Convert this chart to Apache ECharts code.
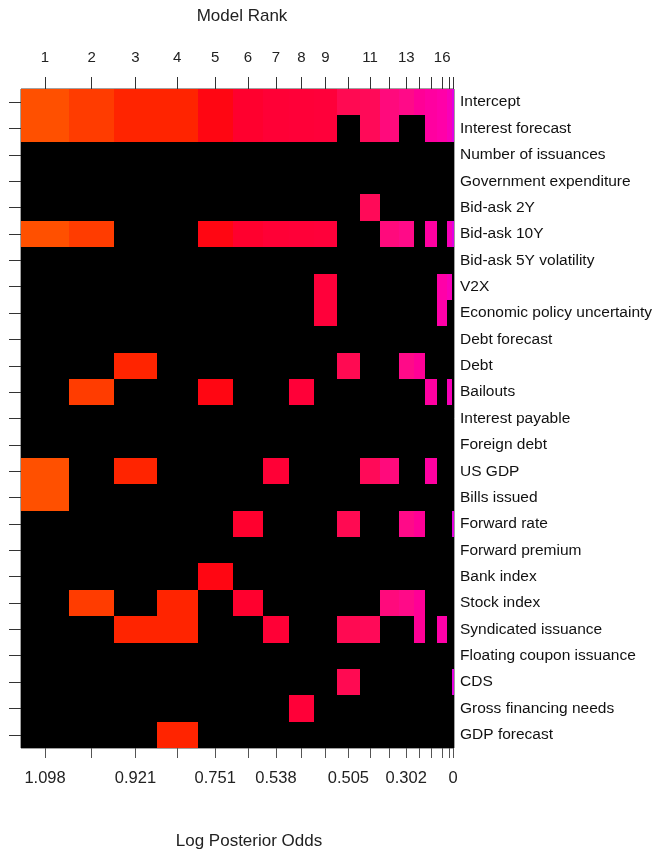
<!DOCTYPE html>
<html>
<head>
<meta charset="utf-8">
<script src="https://cdn.jsdelivr.net/npm/echarts@6/dist/echarts.min.js"></script>
<style>
  html, body { margin: 0; padding: 0; background: #fff; }
  #chart { width: 660px; height: 855px; }
</style>
</head>
<body>
<div id="chart"></div>
<script>
// ---- data ----
const variables = [
  'Intercept', 'Interest forecast', 'Number of issuances', 'Government expenditure',
  'Bid-ask 2Y', 'Bid-ask 10Y', 'Bid-ask 5Y volatility', 'V2X',
  'Economic policy uncertainty', 'Debt forecast', 'Debt', 'Bailouts',
  'Interest payable', 'Foreign debt', 'US GDP', 'Bills issued', 'Forward rate',
  'Forward premium', 'Bank index', 'Stock index', 'Syndicated issuance',
  'Floating coupon issuance', 'CDS', 'Gross financing needs', 'GDP forecast'
];
const modelRanks = [1, 2, 3, 4, 5, 6, 7, 8, 9, 10, 11, 12, 13, 14, 15, 16, 17, 18];
// relative column weight of each model (read from column widths)
const modelWeights = [48, 45, 42.7, 40.6, 35.4, 30, 26, 24.6, 23.4, 22.6, 20.7, 18.3, 15, 11.7, 11.7, 10, 5, 1.8];
const topLabelRanks = [1, 2, 3, 4, 5, 6, 7, 8, 9, 11, 13, 16];
const bottomLabelRanks = [1, 3, 5, 7, 10, 13, 18];
const bottomLabels = ['1.098', '0.921', '0.751', '0.538', '0.505', '0.302', '0'];
// models (ranks) in which each variable is included, same order as variables
const inclusion = [
  [1, 2, 3, 4, 5, 6, 7, 8, 9, 10, 11, 12, 13, 14, 15, 16, 17, 18],
  [1, 2, 3, 4, 5, 6, 7, 8, 9, 11, 12, 15, 16, 17, 18],
  [],
  [],
  [11],
  [1, 2, 5, 6, 7, 8, 9, 12, 13, 15, 17, 18],
  [],
  [9, 16, 17],
  [9, 16],
  [],
  [3, 10, 13, 14],
  [2, 5, 8, 15, 17],
  [],
  [],
  [1, 3, 7, 11, 12, 15],
  [1],
  [6, 10, 13, 14, 18],
  [],
  [5],
  [2, 4, 6, 12, 13, 14],
  [3, 4, 7, 10, 11, 14, 16],
  [],
  [10, 18],
  [8],
  [4]
];
// ---- styles ----
const modelColors = [
  '#FF5000', '#FF3C00', '#FF2400', '#FF2400', '#FF0612', '#FF002E', '#FF0036', '#FF0038', '#FF003A',
  '#FF0A52', '#FF0A58', '#FF0A7C', '#FF0A88', '#FF0096', '#FF00A0', '#FF00A8', '#F800B8', '#E200E0'
];
const excludedColor = '#000000';

// ---- derived ----
const starts = [];
let acc = 0;
modelWeights.forEach(w => { starts.push(acc); acc += w; });
const total = acc;
const centers = modelWeights.map((w, i) => starts[i] + w / 2);
const topLabelValues = topLabelRanks.map(r => centers[r - 1]);
const bottomLabelValues = bottomLabelRanks.map(r => centers[r - 1]);

function nearestIndex(arr, v) {
  let best = 0, bd = Infinity;
  arr.forEach((a, i) => { const d = Math.abs(a - v); if (d < bd) { bd = d; best = i; } });
  return best;
}

const cells = [];
variables.forEach((name, vi) => {
  modelRanks.forEach((rank, mi) => {
    const inc = inclusion[vi].indexOf(rank) >= 0 ? 1 : 0;
    cells.push([starts[mi], starts[mi] + modelWeights[mi], vi, mi, inc]);
  });
});

const chart = echarts.init(document.getElementById('chart'), null, { renderer: 'canvas' });
const textColor = '#222';
const font = 'Liberation Sans, Arial, sans-serif';

chart.setOption({
  animation: false,
  backgroundColor: '#ffffff',
  title: [
    { text: 'Model Rank', left: 237, top: 3, textAlign: 'center',
      textStyle: { fontSize: 17, fontWeight: 'normal', color: textColor, fontFamily: font } },
    { text: 'Log Posterior Odds', left: 244, top: 828, textAlign: 'center',
      textStyle: { fontSize: 17, fontWeight: 'normal', color: textColor, fontFamily: font } }
  ],
  grid: { left: 21, right: 206, top: 89, bottom: 107, show: true, borderColor: '#444', borderWidth: 1, backgroundColor: '#000' },
  xAxis: [
    {
      type: 'value', position: 'top', min: 0, max: total,
      axisLine: { show: false }, splitLine: { show: false },
      axisTick: { show: true, customValues: centers, length: 12, lineStyle: { color: '#333' } },
      axisLabel: { customValues: topLabelValues, margin: 24, fontSize: 15, color: textColor, fontFamily: font,
        formatter: v => String(topLabelRanks[nearestIndex(topLabelValues, v)]) }
    },
    {
      type: 'value', position: 'bottom', min: 0, max: total,
      axisLine: { show: false }, splitLine: { show: false },
      axisTick: { show: true, customValues: centers, length: 10, lineStyle: { color: '#555' } },
      axisLabel: { customValues: bottomLabelValues, margin: 22, fontSize: 16.5, color: textColor, fontFamily: font,
        formatter: v => bottomLabels[nearestIndex(bottomLabelValues, v)] }
    }
  ],
  yAxis: [
    {
      type: 'category', data: variables, inverse: true, position: 'left',
      axisLine: { show: false },
      axisTick: { show: true, alignWithLabel: true, length: 12, lineStyle: { color: '#333' } },
      axisLabel: { show: false }
    },
    {
      type: 'category', data: variables, inverse: true, position: 'right',
      axisLine: { show: false }, axisTick: { show: false },
      axisLabel: { show: true, margin: 6, fontSize: 15.5, color: '#111', fontFamily: font, align: 'left' }
    }
  ],
  series: [{
    type: 'custom',
    xAxisIndex: 0, yAxisIndex: 0,
    data: cells,
    encode: { x: [0, 1], y: 2 },
    renderItem: (params, api) => {
      const x0 = api.value(0), x1 = api.value(1), vi = api.value(2), mi = api.value(3), inc = api.value(4);
      const p0 = api.coord([x0, vi]);
      const p1 = api.coord([x1, vi]);
      const h = api.size([0, 1])[1];
      const left = Math.round(p0[0]), right = Math.round(p1[0]);
      const top = Math.round(p0[1] - h / 2), bottom = Math.round(p0[1] + h / 2);
      return {
        type: 'rect',
        shape: { x: left, y: top, width: right - left, height: bottom - top },
        style: { fill: inc ? modelColors[mi] : excludedColor }
      };
    }
  }]
});
</script>
</body>
</html>
